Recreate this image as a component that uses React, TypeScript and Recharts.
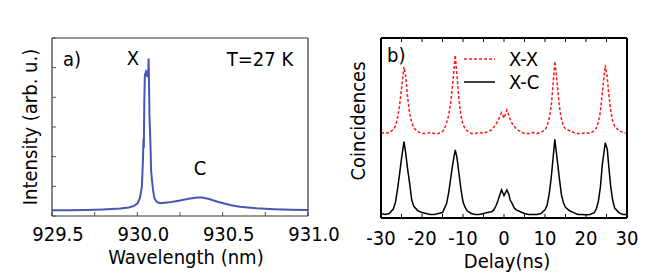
import { LineChart, Line, XAxis, YAxis } from "recharts";

// a) spectrum
const wavelength = [
  929.5, 929.6, 929.7, 929.8, 929.9, 929.95, 929.98, 930.0, 930.015, 930.027,
  930.033, 930.036, 930.038, 930.041, 930.044, 930.048, 930.052, 930.056, 930.06, 930.064,
  930.066, 930.068, 930.071, 930.074, 930.077, 930.081, 930.086, 930.092, 930.1, 930.115,
  930.135, 930.2, 930.25, 930.3, 930.35, 930.38, 930.42, 930.47, 930.55, 930.6,
  930.7, 930.8, 930.9, 931.0,
];
const intensity = [
  0.19, 0.19, 0.2, 0.22, 0.25, 0.29, 0.34, 0.42, 0.6, 1.0,
  1.9, 2.6, 2.3, 3.9, 4.75, 4.82, 4.7, 4.82, 4.75, 4.82,
  5.31, 4.75, 3.4, 2.9, 2.4, 1.5, 1.2, 0.88, 0.6, 0.47,
  0.43, 0.47, 0.52, 0.58, 0.62, 0.62, 0.57, 0.48, 0.36, 0.31,
  0.26, 0.23, 0.21, 0.2,
];
const wavelengthTicks = [929.5, 929.75, 930, 930.25, 930.5, 930.75, 931];
const intensityTicks = [0, 1, 2, 3, 4, 5, 6];

// b) coincidences
const delay = [
  -30, -29, -28, -27, -26.5, -26, -25.5, -25, -24.4, -24,
  -23.5, -23, -22.5, -22, -21, -20, -19, -18, -17, -16,
  -15, -14.5, -14, -13.5, -13, -12.5, -11.9, -11.5, -11, -10.5,
  -10, -9.5, -9, -8, -7, -6, -5, -4, -3, -2.5,
  -2, -1.5, -1, -0.6, 0, 0.7, 1.2, 1.5, 2, 2.5,
  3, 4, 5, 6, 7, 8, 9, 10, 10.5, 11,
  11.5, 12, 12.4, 13, 13.5, 14, 14.5, 15, 16, 17,
  18, 19, 20, 21, 22, 22.5, 23, 23.5, 24, 24.7,
  25.2, 25.5, 26, 26.5, 27, 28, 29, 30,
];
const xxCounts = [
  47.5, 47, 47.5, 49, 51, 55, 62, 72, 84, 79,
  67, 58, 53, 50, 48, 47, 47, 47.5, 47, 47,
  48, 49.5, 53, 57, 64, 75, 90.5, 80, 66, 57,
  52, 49.5, 48.5, 47, 47, 47.5, 47, 48, 49, 50.5,
  52, 54, 56.5, 58.5, 55.5, 60, 57, 55, 52.5, 51,
  49.5, 48, 47, 47, 47.5, 47, 47.5, 49, 51, 55,
  62, 75, 87, 74, 62, 55, 51, 49.5, 48.5, 47.5,
  47, 47, 47.5, 47, 48.5, 50, 53, 59, 70, 85,
  78, 70, 60, 54, 51, 48.5, 47.5, 47,
];
const xcCounts = [
  2.5, 2, 2.5, 5, 8.5, 15.5, 24, 33, 42.4, 36.5,
  27, 19, 10, 6.5, 4, 3, 2.5, 2, 2, 2.5,
  3, 5.5, 8, 14, 22, 30, 37.8, 34, 25, 16,
  9, 6, 4, 2.5, 2, 2, 2.5, 3, 3.5, 4.5,
  6.5, 9.5, 13, 15.6, 12.4, 15.6, 13, 10, 8, 5.5,
  4.5, 3.5, 2.5, 2, 2, 2, 2.5, 4.5, 7, 13,
  22, 34, 43.7, 32, 22, 13, 8.5, 6, 4, 3,
  2, 2, 1.8, 2, 3, 5, 9, 17, 30, 41.8,
  38, 30, 18, 10, 5.5, 3, 2, 2,
];
const delayTicks = [-30, -25, -20, -15, -10, -5, 0, 5, 10, 15, 20, 25, 30];

const font = "'DejaVu Sans Condensed', 'DejaVu Sans', sans-serif";
const tickStyle = { fill: "#000", fontSize: 20, fontFamily: font };
const txt = { fontSize: 20, fontFamily: font, fill: "#000" };

const spectrum = wavelength.map((w, i) => ({ w, y: intensity[i] }));
const coinc = delay.map((d, i) => ({ d, xx: xxCounts[i], xc: xcCounts[i] }));

const frameA = { stroke: "#333", strokeWidth: 1.2 };
const frameB = { stroke: "#000", strokeWidth: 2 };

const SpectrumPanel = () => (
  <LineChart
    width={340}
    height={273}
    data={spectrum}
    margin={{ top: 37, right: 31, bottom: 56, left: 51 }}
    style={{ overflow: "visible" }}
  >
    <XAxis
      xAxisId="b"
      dataKey="w"
      type="number"
      domain={[929.5, 931]}
      ticks={wavelengthTicks}
      interval={0}
      height={1}
      tickSize={-4}
      tickMargin={15}
      tickFormatter={(v: number) => (Math.abs(v * 2 - Math.round(v * 2)) < 1e-6 ? v.toFixed(1) : "")}
      axisLine={frameA}
      tickLine={{ stroke: "#555" }}
      tick={{ ...tickStyle, dx: 6 }}
    />
    <XAxis
      xAxisId="t"
      dataKey="w"
      type="number"
      orientation="top"
      domain={[929.5, 931]}
      height={1}
      tick={false}
      axisLine={frameA}
    />
    <YAxis
      yAxisId="l"
      type="number"
      domain={[0, 6]}
      ticks={intensityTicks}
      width={1}
      tickSize={-4}
      tickFormatter={() => ""}
      axisLine={frameA}
      tickLine={{ stroke: "#555" }}
    />
    <YAxis
      yAxisId="r"
      orientation="right"
      type="number"
      domain={[0, 6]}
      ticks={intensityTicks}
      width={1}
      tickSize={-4}
      tickFormatter={() => ""}
      axisLine={frameA}
      tickLine={{ stroke: "#555" }}
    />
    <Line
      xAxisId="b"
      yAxisId="l"
      dataKey="y"
      type="linear"
      stroke="#4757b3"
      strokeWidth={2}
      dot={false}
      isAnimationActive={false}
    />
    <text x={63} y={66} {...txt}>a)</text>
    <text x={133} y={65} {...txt} textAnchor="middle">X</text>
    <text x={260} y={66} {...txt} textAnchor="middle">T=27 K</text>
    <text x={200} y={175} {...txt} textAnchor="middle">C</text>
    <text x={186} y={264} {...txt} textAnchor="middle">Wavelength (nm)</text>
    <text x={37} y={127} {...txt} textAnchor="middle" transform="rotate(-90 37 127)">Intensity (arb. u.)</text>
  </LineChart>
);

const CoincidencePanel = () => (
  <LineChart
    width={332}
    height={273}
    data={coinc}
    margin={{ top: 37, right: 36, bottom: 54, left: 48 }}
    style={{ overflow: "visible" }}
  >
    <XAxis
      xAxisId="b"
      dataKey="d"
      type="number"
      domain={[-30, 30]}
      ticks={delayTicks}
      interval={0}
      height={1}
      tickSize={-4}
      tickMargin={17}
      tickFormatter={(v: number) => (v % 10 === 0 ? String(v) : "")}
      axisLine={frameB}
      tickLine={{ stroke: "#000" }}
      tick={tickStyle}
    />
    <XAxis
      xAxisId="t"
      dataKey="d"
      type="number"
      orientation="top"
      domain={[-30, 30]}
      ticks={delayTicks}
      interval={0}
      height={1}
      tickSize={-4}
      tickFormatter={() => ""}
      axisLine={frameB}
      tickLine={{ stroke: "#000" }}
    />
    <YAxis
      yAxisId="l"
      type="number"
      domain={[0, 100]}
      width={1}
      tick={false}
      axisLine={frameB}
    />
    <YAxis
      yAxisId="r"
      orientation="right"
      type="number"
      domain={[0, 100]}
      width={1}
      tick={false}
      axisLine={frameB}
    />
    <Line
      xAxisId="b"
      yAxisId="l"
      dataKey="xx"
      type="linear"
      stroke="#ff1a1a"
      strokeWidth={1.5}
      strokeDasharray="3 2"
      dot={false}
      isAnimationActive={false}
    />
    <Line
      xAxisId="b"
      yAxisId="l"
      dataKey="xc"
      type="linear"
      stroke="#000"
      strokeWidth={1.5}
      dot={false}
      isAnimationActive={false}
    />
    <text x={55} y={62} {...txt}>b)</text>
    <line x1={132} y1={59} x2={163} y2={59} stroke="#ff1a1a" strokeWidth={1.5} strokeDasharray="3 2" />
    <text x={177} y={66} {...txt}>X-X</text>
    <line x1={132} y1={82} x2={163} y2={82} stroke="#000" strokeWidth={1.5} />
    <text x={177} y={89} {...txt}>X-C</text>
    <text x={175} y={268} {...txt} textAnchor="middle">Delay(ns)</text>
    <text x={33} y={121} {...txt} textAnchor="middle" transform="rotate(-90 33 121)">Coincidences</text>
  </LineChart>
);

export default function App() {
  return (
    <div style={{ position: "absolute", left: 0, top: 0, width: 664, height: 273, background: "#fff", fontFamily: font }}>
      <div style={{ position: "absolute", left: 0, top: 0 }}>
        <SpectrumPanel />
      </div>
      <div style={{ position: "absolute", left: 332, top: 0 }}>
        <CoincidencePanel />
      </div>
    </div>
  );
}
